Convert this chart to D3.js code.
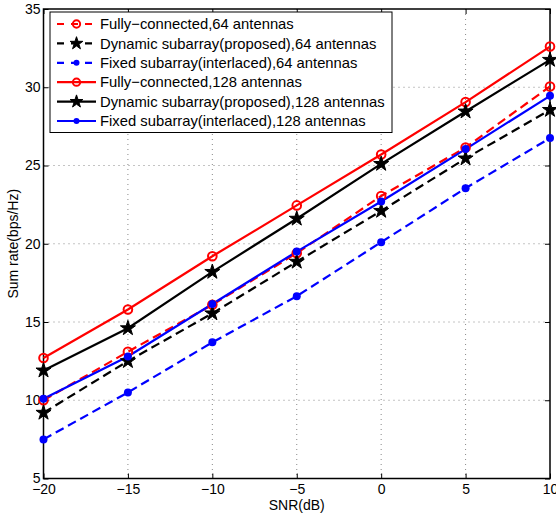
<!DOCTYPE html>
<html><head><meta charset="utf-8">
<script src="https://cdn.jsdelivr.net/npm/d3@7/dist/d3.min.js"></script>
<style>body{margin:0;background:#fff;} text{font-family:"Liberation Sans",Arial,sans-serif;}</style>
</head><body>
<svg id="chart" width="556" height="518"></svg>
<script>
const snr = [-20, -15, -10, -5, 0, 5, 10];
const fc64 = [10.0, 13.1, 16.1, 19.4, 23.05, 26.15, 30.05];
const dyn64 = [9.2, 12.5, 15.55, 18.85, 22.1, 25.45, 28.55];
const fix64 = [7.5, 10.5, 13.7, 16.65, 20.1, 23.55, 26.75];
const fc128 = [12.7, 15.8, 19.2, 22.45, 25.7, 29.05, 32.6];
const dyn128 = [11.9, 14.6, 18.2, 21.6, 25.1, 28.45, 31.75];
const fix128 = [10.1, 12.8, 16.15, 19.5, 22.7, 26.05, 29.45];
const xTicks = [-20, -15, -10, -5, 0, 5, 10];
const yTicks = [5, 10, 15, 20, 25, 30, 35];
const legendLabels = [
  "Fully\u2212connected,64 antennas",
  "Dynamic subarray(proposed),64 antennas",
  "Fixed subarray(interlaced),64 antennas",
  "Fully\u2212connected,128 antennas",
  "Dynamic subarray(proposed),128 antennas",
  "Fixed subarray(interlaced),128 antennas"
];

const series = [
  {v: fc64, color: "#ff0000", dash: "9,5", marker: "circle"},
  {v: dyn64, color: "#000000", dash: "9,5", marker: "star"},
  {v: fix64, color: "#0000ff", dash: "9,5", marker: "dot"},
  {v: fc128, color: "#ff0000", dash: null, marker: "circle"},
  {v: dyn128, color: "#000000", dash: null, marker: "star"},
  {v: fix128, color: "#0000ff", dash: null, marker: "dot"}
];

const L = 43.5, R = 550, T = 9, B = 478.5;
const svg = d3.select("#chart");
const x = d3.scaleLinear().domain([-20, 10]).range([L, R]);
const y = d3.scaleLinear().domain([5, 35]).range([B, T]);

// grid
const g = svg.append("g");
g.selectAll(".gx").data(xTicks.slice(1, -1)).enter().append("line")
  .attr("x1", d => x(d)).attr("x2", d => x(d)).attr("y1", T).attr("y2", B)
  .attr("stroke", "#888").attr("stroke-width", 1).attr("stroke-dasharray", "1,4");
g.selectAll(".gy").data(yTicks.slice(1, -1)).enter().append("line")
  .attr("y1", d => y(d)).attr("y2", d => y(d)).attr("x1", L).attr("x2", R)
  .attr("stroke", "#888").attr("stroke-width", 1).attr("stroke-dasharray", "1,4");

// axes
const fmt = d => (d < 0 ? "\u2212" + Math.abs(d) : String(d));
const xAxis = svg.append("g").attr("transform", `translate(0,${B})`)
  .call(d3.axisBottom(x).tickValues(xTicks).tickSize(-5).tickPadding(6).tickFormat(fmt));
const xAxisTop = svg.append("g").attr("transform", `translate(0,${T})`)
  .call(d3.axisTop(x).tickValues(xTicks).tickSize(-5).tickFormat(""));
const yAxis = svg.append("g").attr("transform", `translate(${L},0)`)
  .call(d3.axisLeft(y).tickValues(yTicks).tickSize(-5).tickPadding(3).tickFormat(fmt));
const yAxisR = svg.append("g").attr("transform", `translate(${R},0)`)
  .call(d3.axisRight(y).tickValues(yTicks).tickSize(-5).tickFormat(""));
[xAxis, xAxisTop, yAxis, yAxisR].forEach(a => {
  a.select(".domain").remove();
  a.selectAll("line").attr("stroke", "#000");
  a.selectAll("text").attr("fill", "#000").style("font-size", "14px")
    .style("font-family", "'Liberation Sans',Arial,sans-serif");
});
svg.append("rect").attr("x", L).attr("y", T).attr("width", R - L).attr("height", B - T)
  .attr("fill", "none").attr("stroke", "#000").attr("stroke-width", 1.5);

// labels
svg.append("text").attr("x", (L + R) / 2).attr("y", 510).attr("text-anchor", "middle")
  .style("font-size", "14px").text("SNR(dB)");
svg.append("text").attr("transform", `translate(18,${(T + B) / 2}) rotate(-90)`)
  .attr("text-anchor", "middle").style("font-size", "14px").text("Sum rate(bps/Hz)");

// markers
const star = d3.symbol().type(d3.symbolStar);
function drawMarker(sel, s, cx, cy, scale) {
  if (s.marker === "circle") {
    sel.append("circle").attr("cx", cx).attr("cy", cy).attr("r", 4.3 * scale)
      .attr("fill", "none").attr("stroke", s.color).attr("stroke-width", 2);
  } else if (s.marker === "star") {
    sel.append("path").attr("d", star.size(70 * scale * scale)())
      .attr("transform", `translate(${cx},${cy})`).attr("fill", s.color)
      .attr("stroke", s.color).attr("stroke-width", 1);
  } else {
    sel.append("circle").attr("cx", cx).attr("cy", cy).attr("r", 4 * scale)
      .attr("fill", s.color);
  }
}

const line = d3.line().x((d, i) => x(snr[i])).y(d => y(d));
const plot = svg.append("g");
series.forEach(s => {
  const p = plot.append("path").datum(s.v).attr("d", line).attr("fill", "none")
    .attr("stroke", s.color).attr("stroke-width", 2.2);
  if (s.dash) p.attr("stroke-dasharray", s.dash);
});
series.forEach(s => {
  s.v.forEach((d, i) => drawMarker(plot, s, x(snr[i]), y(d), 1));
});

// legend
const lg = svg.append("g");
lg.append("rect").attr("x", 50).attr("y", 12).attr("width", 342).attr("height", 120.5)
  .attr("fill", "#fff").attr("stroke", "#000").attr("stroke-width", 1);
legendLabels.forEach((lab, i) => {
  const s = series[i];
  const cy = 24 + i * 19.4;
  const ln = lg.append("line").attr("x1", 57).attr("x2", 96).attr("y1", cy).attr("y2", cy)
    .attr("stroke", s.color).attr("stroke-width", 2.2);
  if (s.dash) ln.attr("stroke-dasharray", "7,7").attr("stroke-dashoffset", 0);
  drawMarker(lg, s, 76.5, cy, s.marker === "dot" ? 0.75 : 0.85);
  lg.append("text").attr("x", 100).attr("y", cy).attr("dy", "0.35em")
    .style("font-size", "14.8px").attr("fill", "#000").text(lab);
});
</script>
</body></html>
